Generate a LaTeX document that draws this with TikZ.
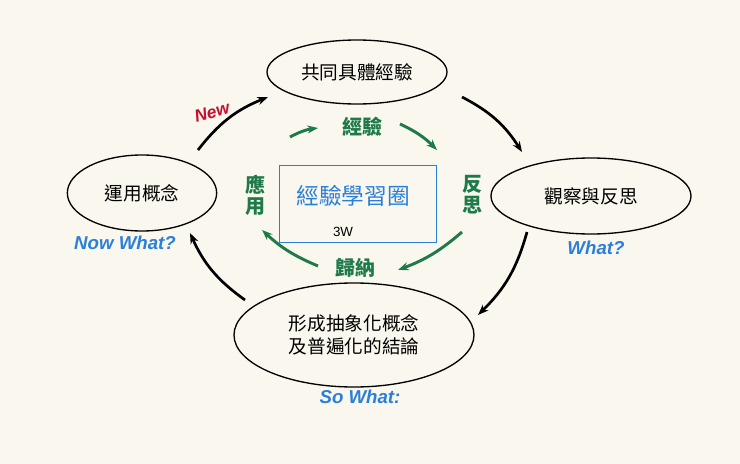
\documentclass[tikz,border=0pt]{standalone}
\usepackage{fontspec}
\newfontfamily\cjk{Noto Sans CJK TC}
\setmainfont{Liberation Sans}
\usetikzlibrary{shapes.geometric,arrows.meta}
\definecolor{bg}{HTML}{F9F7EE}
\definecolor{gr}{HTML}{1F7A4A}
\definecolor{bl}{HTML}{2A7FD8}
\definecolor{rd}{HTML}{C8102E}
\begin{document}
\tikzset{x=0.75pt,y=-0.75pt,
 ell/.style={draw,ellipse,line width=1pt,inner sep=0pt,font=\cjk\fontsize{14}{17}\selectfont},
 blk/.style={-{Stealth[length=8pt]},line width=2pt},
 grn/.style={-{Stealth[length=8pt]},line width=2.2pt,draw=gr},
 gl/.style={text=gr,font=\cjk\bfseries\fontsize{15}{16}\selectfont},
 bt/.style={text=bl,font=\bfseries\itshape\fontsize{14}{16}\selectfont}}
\begin{tikzpicture}
\fill[bg] (0,0) rectangle (740,464);
\useasboundingbox (0,0) rectangle (740,464);
\node[ell,minimum width=135pt,minimum height=48pt] (top) at (357,72) {共同具體經驗};
\node[ell,minimum width=150pt,minimum height=57pt] (right) at (591,196) {觀察與反思};
\node[ell,minimum width=180pt,minimum height=78pt,align=center] (bot) at (354,335) {形成抽象化概念\\及普遍化的結論};
\node[ell,minimum width=112pt,minimum height=57pt] (left) at (142,193) {運用概念};
\node[draw=bl,line width=1pt,minimum width=118pt,minimum height=58pt] (ctr) at (358,204) {};
\node[text=bl,font=\cjk\fontsize{17}{18}\selectfont] (ct) at (353,196) {經驗學習圈};
\node[font=\fontsize{10}{12}\selectfont] (w3) at (343,232) {3W};
\node[gl] (g1) at (362,127) {經驗};
\node[gl,align=center] (g2) at (472,195) {反\\思};
\node[gl] (g3) at (355,268) {歸納};
\node[gl,align=center] (g4) at (255,195) {應\\用};
\coordinate (a1) at (462,97); \coordinate (a2) at (522,152);
\coordinate (b1) at (527,232); \coordinate (b2) at (478,315);
\coordinate (c1) at (245,300); \coordinate (c2) at (190,233);
\coordinate (d1) at (198,150); \coordinate (d2) at (268,97);
\draw[blk] (a1) to[bend left=15] (a2);
\draw[blk] (b1) to[bend left=15] (b2);
\draw[blk] (c1) to[bend left=15] (c2);
\draw[blk] (d1) to[bend left=15] (d2);
\coordinate (e1) at (290,137); \coordinate (e2) at (318,128);
\coordinate (f1) at (400,124); \coordinate (f2) at (437,150);
\coordinate (h1) at (462,232); \coordinate (h2) at (398,270);
\coordinate (k1) at (318,266); \coordinate (k2) at (262,230);
\draw[grn] (e1) to[bend left=10] (e2);
\draw[grn] (f1) to[bend left=10] (f2);
\draw[grn] (h1) to[bend left=10] (h2);
\draw[grn] (k1) to[bend left=10] (k2);
\node[text=rd,font=\bfseries\itshape\fontsize{13}{14}\selectfont,rotate=15,inner sep=1pt] (nw) at (212,112) {New};
\node[bt] (t1) at (125,243) {Now What?};
\node[bt] (t2) at (596,248) {What?};
\node[bt] (t3) at (360,397) {So What:};
\end{tikzpicture}
\end{document}
